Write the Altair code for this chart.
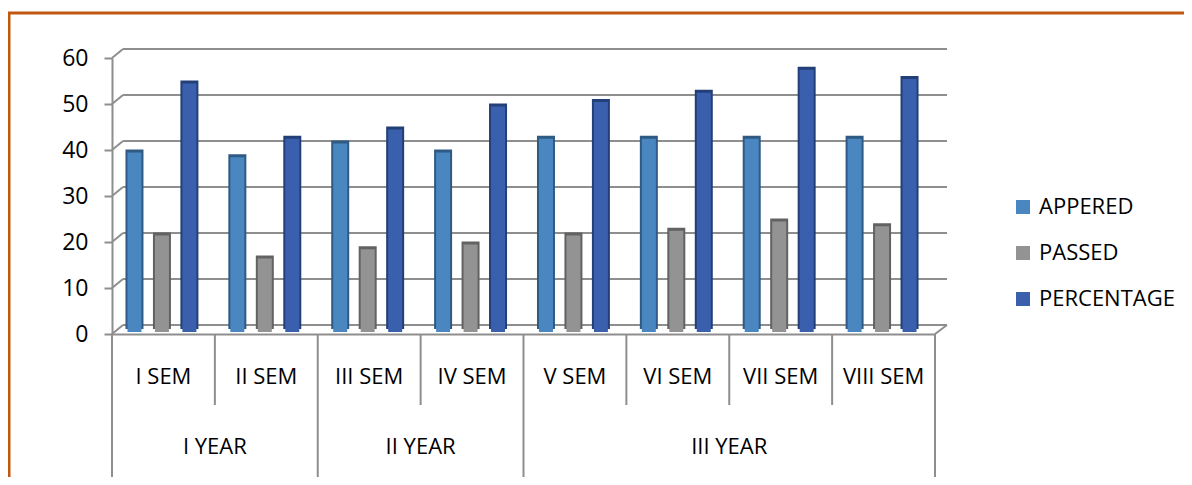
import altair as alt
import pandas as pd

sems = ["I SEM", "II SEM", "III SEM", "IV SEM", "V SEM", "VI SEM", "VII SEM", "VIII SEM"]
year_of_sem = ["I YEAR", "I YEAR", "II YEAR", "II YEAR", "III YEAR", "III YEAR", "III YEAR", "III YEAR"]
years = ["I YEAR", "II YEAR", "III YEAR"]
series = ["APPERED", "PASSED", "PERCENTAGE"]
appered = [39, 38, 41, 39, 42, 42, 42, 42]
passed = [21, 16, 18, 19, 21, 22, 24, 23]
percentage = [54, 42, 44, 49, 50, 52, 57, 55]
y_ticks = [0, 10, 20, 30, 40, 50, 60]

front_colors = ["#4A86BF", "#939393", "#3A60AD"]
side_colors = ["#2E5A84", "#626262", "#233F77"]
line_gray = "#8E8E8E"
FONT = "Open Sans"
FS = 22

W, H = 823, 276

rows = []
for i, s in enumerate(sems):
    for k, (name, vals) in enumerate(zip(series, [appered, passed, percentage])):
        rows.append({"sem": s, "series": name, "value": vals[i], "side": side_colors[k]})
df = pd.DataFrame(rows)

ticks_df = pd.DataFrame({"value": y_ticks})
zero_df = pd.DataFrame({"value": [y_ticks[0]]})

# separators derived from year structure
year_first = [sems[year_of_sem.index(y)] for y in years]
sem_sep = [s for s in sems if s not in year_first]
year_mid = []
for y in years:
    ys = [s for s, yy in zip(sems, year_of_sem) if yy == y]
    year_mid.append({"year": y, "sem": ys[len(ys) // 2 - 1]})

x_scale = alt.Scale(domain=sems, paddingInner=0, paddingOuter=0)
y_scale = alt.Scale(domain=[0, 60], nice=False)

x_axis = alt.Axis(labels=False, ticks=False, domain=True, domainColor=line_gray,
                  domainWidth=2, title=None, grid=False)
y_axis = alt.Axis(values=y_ticks, grid=False, domainColor=line_gray, domainWidth=2,
                  tickColor=line_gray, tickWidth=2, tickSize=8, labelFont=FONT,
                  labelFontSize=23, labelColor="black", labelPadding=16, title=None)

def X(**kw):
    return alt.X("sem:N", scale=x_scale, sort=sems, axis=x_axis, **kw)

def Y():
    return alt.Y("value:Q", scale=y_scale, axis=y_axis)

grid = alt.Chart(ticks_df).mark_rule(color=line_gray, strokeWidth=2, yOffset=-9).encode(
    y=Y(), x=alt.value(11), x2=alt.value(W + 12),
)
diag = alt.Chart(ticks_df).mark_rule(color=line_gray, strokeWidth=2, y2Offset=-9).encode(
    y=Y(), y2="value:Q", x=alt.value(0), x2=alt.value(11),
)
diag_r = alt.Chart(zero_df).mark_rule(color=line_gray, strokeWidth=2, y2Offset=-9).encode(
    y=Y(), y2="value:Q", x=alt.value(W), x2=alt.value(W + 12),
)

sem_lines = alt.Chart(pd.DataFrame({"sem": sem_sep})).mark_rule(color=line_gray, strokeWidth=2).encode(
    x=X(bandPosition=0), y=alt.value(H), y2=alt.value(H + 71),
)
year_lines = alt.Chart(pd.DataFrame({"sem": year_first})).mark_rule(color=line_gray, strokeWidth=2).encode(
    x=X(bandPosition=0), y=alt.value(H), y2=alt.value(H + 143),
)
end_line = alt.Chart(pd.DataFrame({"sem": [sems[-1]]})).mark_rule(color=line_gray, strokeWidth=2).encode(
    x=X(bandPosition=1), y=alt.value(H), y2=alt.value(H + 143),
)

xo = alt.XOffset("series:N", sort=series,
                 scale=alt.Scale(domain=series, paddingInner=0.345, paddingOuter=0.545, align=0.45))

side_bars = alt.Chart(df).mark_bar(yOffset=-5, y2Offset=-3).encode(
    x=X(), xOffset=xo, y=Y(),
    color=alt.Color("side:N", scale=None),
)
front_bars = alt.Chart(df).mark_bar(width=14, xOffset=-2, yOffset=-2, y2Offset=-2).encode(
    x=X(), xOffset=xo, y=Y(),
    color=alt.Color("series:N", sort=series,
                    scale=alt.Scale(domain=series, range=front_colors),
                    legend=alt.Legend(title=None, orient="none", legendX=900, legendY=138,
                                      symbolType="square", symbolSize=196, symbolStrokeWidth=0,
                                      labelFont=FONT, labelFontSize=FS, labelColor="black",
                                      labelOffset=5, rowPadding=24, padding=0)),
)

sem_text = alt.Chart(pd.DataFrame({"sem": sems})).mark_text(
    font=FONT, fontSize=FS, color="black", baseline="middle").encode(
    x=X(), y=alt.value(319), text="sem:N",
)
year_text = alt.Chart(pd.DataFrame(year_mid)).mark_text(
    font=FONT, fontSize=FS, color="black", baseline="middle").encode(
    x=X(bandPosition=1), y=alt.value(389), text="year:N",
)

one = pd.DataFrame({"a": [0]})
frame_top = alt.Chart(one).mark_rule(color="#C0580F", strokeWidth=3).encode(
    x=alt.value(-104), x2=alt.value(1080), y=alt.value(-45))
frame_left = alt.Chart(one).mark_rule(color="#C0580F", strokeWidth=3).encode(
    x=alt.value(-103), y=alt.value(-45), y2=alt.value(420))
frame_bottom = alt.Chart(one).mark_rule(color="#E6E6E6", strokeWidth=3).encode(
    x=alt.value(-100), x2=alt.value(1080), y=alt.value(421))

chart = alt.layer(
    grid, diag, diag_r, sem_lines, year_lines, end_line,
    side_bars, front_bars, sem_text, year_text,
    frame_top, frame_left, frame_bottom,
).properties(
    width=W, height=H,
    autosize=alt.AutoSizeParams(type="none"),
    padding={"left": 104, "top": 50, "right": 249, "bottom": 143},
    background="white",
).configure_view(stroke=None)

chart.save("out.html", embed_options={"renderer": "svg", "actions": False})
